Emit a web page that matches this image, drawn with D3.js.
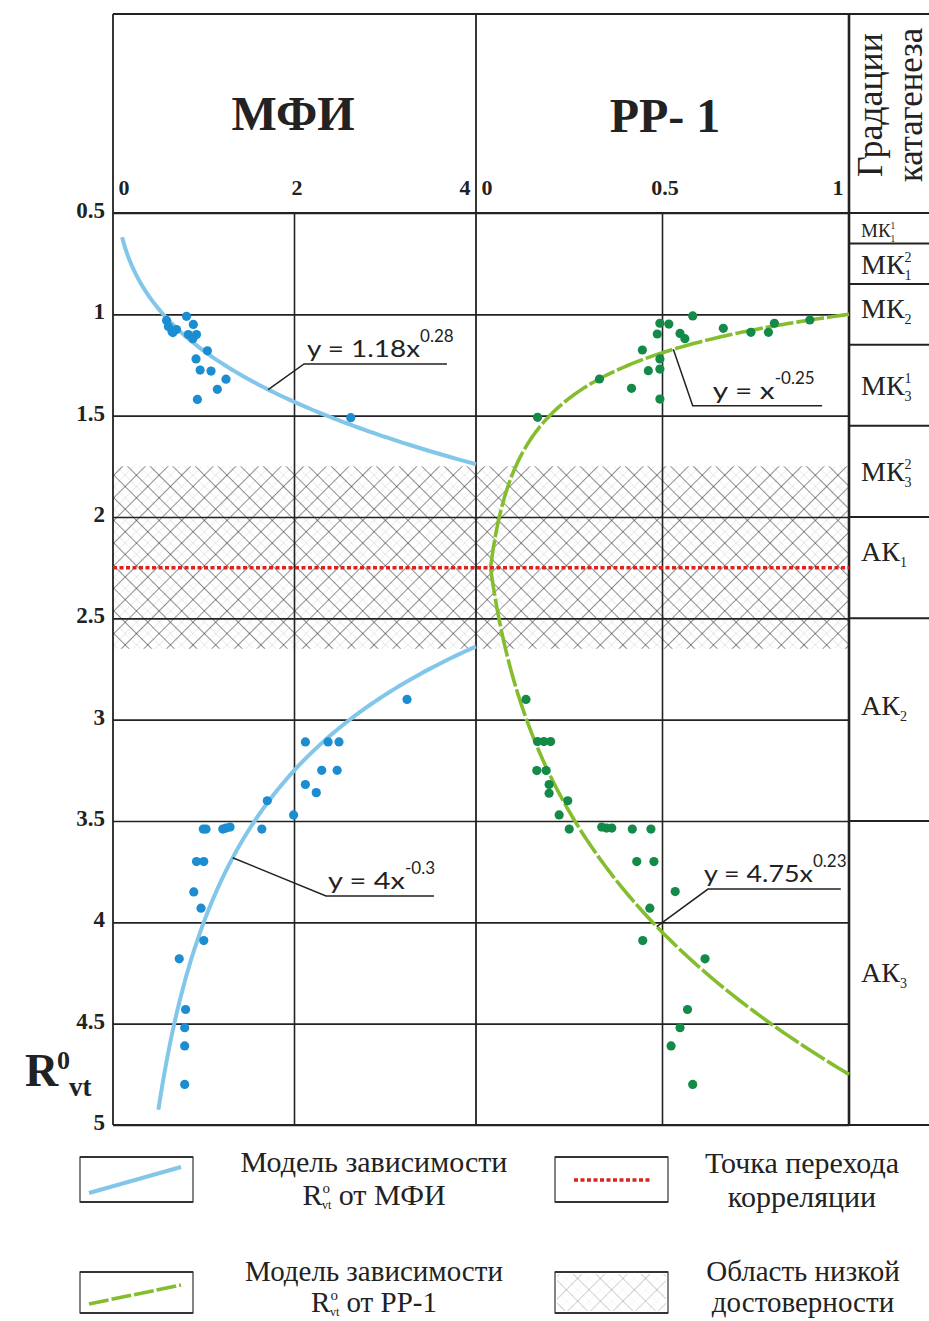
<!DOCTYPE html>
<html>
<head>
<meta charset="utf-8">
<script src="https://cdn.jsdelivr.net/npm/d3@7"></script>
<style>
  body { margin: 0; background: #fff; }
  svg { display: block; }
</style>
</head>
<body>
<svg id="chart" width="929" height="1321"></svg>
<script>
// ── Data ──
const rTicks   = [0.5, 1, 1.5, 2, 2.5, 3, 3.5, 4, 4.5, 5];
const mfiTicks = [0, 2, 4];
const ppTicks  = [0, 0.5, 1];

// МФИ scatter (x = МФИ, R = R0vt)
const mfiX = [0.81, 0.885, 0.59, 0.61, 0.65, 0.70, 0.66, 0.83, 0.92, 0.88, 1.04, 0.915, 0.96, 1.08, 1.245, 1.15, 0.93, 2.62,
              3.24, 2.12, 2.37, 2.49, 2.30, 2.47, 2.12, 2.24, 1.70, 1.99, 0.995, 1.025, 1.21, 1.245, 1.29, 1.64,
              0.92, 1.00, 0.89, 0.97, 1.00, 0.73, 0.80, 0.79, 0.79, 0.79];
const mfiR = [1.01, 1.05, 1.03, 1.06, 1.085, 1.075, 1.09, 1.10, 1.10, 1.12, 1.18, 1.22, 1.275, 1.28, 1.32, 1.37, 1.42, 1.51,
              2.90, 3.11, 3.11, 3.11, 3.25, 3.25, 3.32, 3.36, 3.40, 3.47, 3.54, 3.54, 3.54, 3.535, 3.53, 3.54,
              3.70, 3.70, 3.85, 3.93, 4.09, 4.18, 4.43, 4.52, 4.61, 4.80];

// РР-1 scatter
const ppX = [0.581, 0.493, 0.517, 0.486, 0.547, 0.56, 0.663, 0.737, 0.784, 0.80, 0.895, 0.446, 0.493, 0.462, 0.493, 0.331, 0.417, 0.493, 0.165,
             0.134, 0.165, 0.182, 0.20, 0.163, 0.188, 0.196, 0.196, 0.246, 0.223, 0.25, 0.337, 0.35, 0.364, 0.419, 0.469,
             0.431, 0.477, 0.534, 0.466, 0.447, 0.614, 0.567, 0.547, 0.523, 0.581];
const ppR = [1.008, 1.044, 1.048, 1.097, 1.094, 1.12, 1.069, 1.089, 1.089, 1.044, 1.028, 1.176, 1.22, 1.278, 1.27, 1.319, 1.365, 1.418, 1.508,
             2.90, 3.108, 3.108, 3.108, 3.251, 3.251, 3.32, 3.363, 3.40, 3.47, 3.54, 3.53, 3.535, 3.535, 3.54, 3.54,
             3.70, 3.70, 3.848, 3.93, 4.09, 4.18, 4.43, 4.52, 4.61, 4.80];

// power-law models R = a * x^b, as printed on the chart
const mfiFits = [{ a: 1.18, b: 0.28, from: 0.1, to: 4 }, { a: 4, b: -0.3, from: 0.5, to: 4 }];
const ppFits  = [{ a: 1, b: -0.25, from: 0.039, to: 1 }, { a: 4.75, b: 0.23, from: 0.039, to: 1 }];

const transitionR   = 2.25;
const lowConfidence = [1.75, 2.65];

// catagenesis gradations
const gradNames  = [['МК', '1', '1'], ['МК', '1', '2'], ['МК', '2', ''], ['МК', '3', '1'], ['МК', '3', '2'], ['АК', '1', ''], ['АК', '2', ''], ['АК', '3', '']];
const gradBounds = [0.5, 0.65, 0.85, 1.15, 1.55, 2.0, 2.5, 3.5, 5];

// ── Setup ──
const svg = d3.select('#chart');
const serif = "'Liberation Serif', 'Times New Roman', serif";
const sans  = "Lato, 'Open Sans', sans-serif";
const ink = '#222';

const xMfi = d3.scaleLinear().domain([0, 4]).range([113, 476]);
const xPp  = d3.scaleLinear().domain([0, 1]).range([476, 849]);
const y    = d3.scaleLinear().domain([0.5, 5]).range([213, 1125]);

const defs = svg.append('defs');
function hatch(id, angle, dark) {
  const p = defs.append('pattern')
    .attr('id', id)
    .attr('patternUnits', 'userSpaceOnUse')
    .attr('width', 16).attr('height', 16)
    .attr('patternTransform', `rotate(${angle})`);
  p.append('line').attr('x1', 0.5).attr('x2', 0.5).attr('y1', 0).attr('y2', 16)
    .attr('stroke', '#333').attr('stroke-width', 1).attr('opacity', dark);
  p.append('line').attr('x1', 8.5).attr('x2', 8.5).attr('y1', 0).attr('y2', 16)
    .attr('stroke', '#888').attr('stroke-width', 0.8).attr('opacity', dark * 0.35);
}
hatch('hatchA', 45, 0.55);
hatch('hatchB', -45, 0.55);
hatch('hatchLa', 45, 0.22);
hatch('hatchLb', -45, 0.22);

// ── Low-confidence zone ──
['hatchA', 'hatchB'].forEach(id => {
  svg.append('rect')
    .attr('x', xMfi(0)).attr('width', xPp(1) - xMfi(0))
    .attr('y', y(lowConfidence[0])).attr('height', y(lowConfidence[1]) - y(lowConfidence[0]))
    .attr('fill', `url(#${id})`);
});

// ── Grid + Y axis ──
const yAxis = svg.append('g')
  .attr('transform', `translate(${xMfi(0)},0)`)
  .call(d3.axisLeft(y).tickValues(rTicks).tickSize(-(xPp(1) - xMfi(0))).tickPadding(8).tickFormat(d => d));
yAxis.select('.domain').remove();
yAxis.selectAll('line').attr('stroke', ink).attr('stroke-width', 1.6);
yAxis.selectAll('text')
  .attr('fill', ink).attr('dy', '0.2em')
  .style('font-family', serif).style('font-weight', 'bold').style('font-size', '23px');

svg.selectAll('.vgrid')
  .data([xMfi(2), xPp(0.5)])
  .enter().append('line')
  .attr('x1', d => d).attr('x2', d => d)
  .attr('y1', y(0.5)).attr('y2', y(5))
  .attr('stroke', ink).attr('stroke-width', 1.6);

// frame
const frame = svg.append('g').attr('stroke', ink).attr('fill', 'none');
frame.append('line').attr('x1', 113).attr('x2', 929).attr('y1', 14).attr('y2', 14).attr('stroke-width', 2);
frame.append('line').attr('x1', 113).attr('x2', 929).attr('y1', y(0.5)).attr('y2', y(0.5)).attr('stroke-width', 2);
frame.append('line').attr('x1', 113).attr('x2', 929).attr('y1', y(5)).attr('y2', y(5)).attr('stroke-width', 2);
[xMfi(0), xMfi(4)].forEach(x => {
  frame.append('line').attr('x1', x).attr('x2', x).attr('y1', 14).attr('y2', y(5)).attr('stroke-width', 1.8);
});
frame.append('line').attr('x1', xPp(1)).attr('x2', xPp(1)).attr('y1', 14).attr('y2', y(5)).attr('stroke-width', 2.6);

// ── Top axes ──
function topAxis(scale, ticks) {
  const g = svg.append('g')
    .attr('transform', `translate(0,${y(0.5)})`)
    .call(d3.axisTop(scale).tickValues(ticks).tickSize(0).tickPadding(18).tickFormat(d => d));
  g.select('.domain').remove();
  g.selectAll('text')
    .attr('fill', ink)
    .style('font-family', serif).style('font-weight', 'bold').style('font-size', '22px')
    .attr('text-anchor', (d, i) => i === 0 ? 'start' : i === ticks.length - 1 ? 'end' : 'middle')
    .attr('dx', (d, i) => i === 0 ? 5 : i === ticks.length - 1 ? -6 : 2);
}
topAxis(xMfi, mfiTicks);
topAxis(xPp, ppTicks);

// panel titles
svg.append('text').attr('x', 293).attr('y', 130).attr('text-anchor', 'middle')
  .style('font-family', serif).style('font-weight', 'bold').style('font-size', '48px').attr('fill', ink)
  .text('МФИ');
svg.append('text').attr('x', 665).attr('y', 132).attr('text-anchor', 'middle')
  .style('font-family', serif).style('font-weight', 'bold').style('font-size', '48px').attr('fill', ink)
  .text('РР- 1');

// ── Gradation column ──
svg.append('g').selectAll('text')
  .data(['Градации', 'катагенеза'])
  .enter().append('text')
  .attr('transform', (d, i) => `translate(${i === 0 ? 882 : 922},105) rotate(-90)`)
  .attr('text-anchor', 'middle')
  .attr('textLength', (d, i) => i === 0 ? 144 : 154)
  .attr('lengthAdjust', 'spacingAndGlyphs')
  .style('font-family', serif).style('font-size', '35px').attr('fill', ink)
  .text(d => d);

svg.selectAll('.gradline')
  .data(gradBounds.slice(1, -1))
  .enter().append('line')
  .attr('x1', xPp(1)).attr('x2', 929)
  .attr('y1', d => y(d)).attr('y2', d => y(d))
  .attr('stroke', ink).attr('stroke-width', 2);

const gradShift = [3, 1, -6, 0, 0, -16, -14, 0];
gradNames.forEach((n, i) => {
  const small = i === 0;
  const fs = small ? 19 : 28;
  const base = (y(gradBounds[i]) + y(gradBounds[i + 1])) / 2 + fs * 0.33 + gradShift[i];
  const t = svg.append('text').attr('x', 861).attr('y', base)
    .style('font-family', serif).style('font-size', fs + 'px').attr('fill', ink).text(n[0]);
  const w = t.node().getComputedTextLength();
  svg.append('text').attr('x', 861 + w).attr('y', base + fs * 0.22)
    .style('font-family', serif).style('font-size', (fs * 0.5) + 'px').attr('fill', ink).text(n[1]);
  if (n[2]) {
    svg.append('text').attr('x', 861 + w).attr('y', base - fs * 0.42)
      .style('font-family', serif).style('font-size', (fs * 0.5) + 'px').attr('fill', ink).text(n[2]);
  }
});

// ── Model curves ──
function fitPoints(f) {
  // log-spaced samples so the steep end stays smooth
  return d3.range(0, 201).map(i => {
    const x = f.from * Math.pow(f.to / f.from, i / 200);
    return [x, f.a * Math.pow(x, f.b)];
  });
}
const lineMfi = d3.line().x(d => xMfi(d[0])).y(d => y(d[1]));
const linePp  = d3.line().x(d => xPp(d[0])).y(d => y(d[1]));

mfiFits.forEach(f => {
  svg.append('path').datum(fitPoints(f))
    .attr('d', lineMfi).attr('fill', 'none')
    .attr('stroke', '#82c6ea').attr('stroke-width', 4);
});
ppFits.forEach(f => {
  svg.append('path').datum(fitPoints(f))
    .attr('d', linePp).attr('fill', 'none')
    .attr('stroke', '#84bd2e').attr('stroke-width', 3.6)
    .attr('stroke-dasharray', '28,3');
});

// transition line
svg.append('line')
  .attr('x1', xMfi(0)).attr('x2', xPp(1))
  .attr('y1', y(transitionR)).attr('y2', y(transitionR))
  .attr('stroke', '#d9251d').attr('stroke-width', 3.5)
  .attr('stroke-dasharray', '4,2.5');

// ── Points ──
svg.append('g').selectAll('circle')
  .data(mfiX.map((v, i) => [v, mfiR[i]]))
  .enter().append('circle')
  .attr('cx', d => xMfi(d[0])).attr('cy', d => y(d[1])).attr('r', 4.6)
  .attr('fill', '#1b8dd0');
svg.append('g').selectAll('circle')
  .data(ppX.map((v, i) => [v, ppR[i]]))
  .enter().append('circle')
  .attr('cx', d => xPp(d[0])).attr('cy', d => y(d[1])).attr('r', 4.6)
  .attr('fill', '#138a48');

// ── Equation call-outs ──
const callouts = [
  { sx: xMfi, fit: mfiFits[0], ax: 1.71,   ex: 2.105, eR: 1.245, endX: 3.68,  main: 'y = 1.18x', sup: '0.28',  mw: 113, tdx: 3 },
  { sx: xPp,  fit: ppFits[0],  ax: 0.529,  ex: 0.581, eR: 1.451, endX: 0.928, main: 'y = x',     sup: '-0.25', mw: 62,  tdx: 20 },
  { sx: xMfi, fit: mfiFits[1], ax: 1.319,  ex: 2.347, eR: 3.87,  endX: 3.537, main: 'y = 4x',    sup: '-0.3',  mw: 77,  tdx: 2 },
  { sx: xPp,  fit: ppFits[1],  ax: 0.4845, ex: 0.622, eR: 3.836, endX: 0.978, main: 'y = 4.75x', sup: '0.23',  mw: 109, tdx: -4 }
];
callouts.forEach(c => {
  const ay = c.fit.a * Math.pow(c.ax, c.fit.b);
  svg.append('path')
    .attr('d', d3.line()([[c.sx(c.ax), y(ay)], [c.sx(c.ex), y(c.eR)], [c.sx(c.endX), y(c.eR)]]))
    .attr('fill', 'none').attr('stroke', ink).attr('stroke-width', 1.5);
  const tx = c.sx(c.ex) + c.tdx;
  const ty = y(c.eR) - 7;
  svg.append('text').attr('x', tx).attr('y', ty)
    .attr('textLength', c.mw).attr('lengthAdjust', 'spacingAndGlyphs')
    .style('font-family', sans).style('font-size', '24px').attr('fill', ink)
    .text(c.main);
  svg.append('text').attr('x', tx + c.mw).attr('y', ty - 15)
    .style('font-family', sans).style('font-size', '17px').attr('fill', ink)
    .text(c.sup);
});

// ── R0vt label ──
const rl = svg.append('g').attr('fill', ink).style('font-family', serif).style('font-weight', 'bold');
rl.append('text').attr('x', 25).attr('y', 1086).style('font-size', '46px').text('R');
rl.append('text').attr('x', 57).attr('y', 1069).style('font-size', '26px').text('0');
rl.append('text').attr('x', 69).attr('y', 1096).style('font-size', '27px').text('vt');

// ── Legend ──
const legendBoxes = [[80, 1157, 113, 45], [555, 1157, 113, 45], [80, 1272, 113, 41], [555, 1272, 113, 41]];
const lg = svg.append('g');
legendBoxes.forEach(b => {
  lg.append('rect').attr('x', b[0]).attr('y', b[1]).attr('width', b[2]).attr('height', b[3])
    .attr('fill', 'none').attr('stroke', '#333').attr('stroke-width', 1.2);
  [b[1], b[1] + b[3]].forEach(yy => {
    lg.append('line').attr('x1', b[0]).attr('x2', b[0] + b[2]).attr('y1', yy).attr('y2', yy)
      .attr('stroke', '#333').attr('stroke-width', 2.2);
  });
});
lg.append('line').attr('x1', 89).attr('y1', 1193).attr('x2', 181).attr('y2', 1167)
  .attr('stroke', '#82c6ea').attr('stroke-width', 4);
lg.append('line').attr('x1', 574).attr('y1', 1180).attr('x2', 652).attr('y2', 1180)
  .attr('stroke', '#d9251d').attr('stroke-width', 3.5).attr('stroke-dasharray', '4,2.5');
lg.append('line').attr('x1', 89).attr('y1', 1304).attr('x2', 181).attr('y2', 1285)
  .attr('stroke', '#84bd2e').attr('stroke-width', 3.6).attr('stroke-dasharray', '20,3');
['hatchLa', 'hatchLb'].forEach(id => {
  lg.append('rect').attr('x', 557).attr('y', 1274).attr('width', 109).attr('height', 37)
    .attr('fill', `url(#${id})`);
});

function legendText(x, yy, lines, gap, fs) {
  lines.forEach((ln, i) => {
    const t = lg.append('text').attr('x', x).attr('y', yy + i * gap).attr('text-anchor', 'middle')
      .style('font-family', serif).style('font-size', fs + 'px').attr('fill', ink);
    if (typeof ln === 'string') {
      t.text(ln);
    } else {
      t.append('tspan').text('R');
      t.append('tspan').attr('dy', -12).style('font-size', '15px').text('o');
      t.append('tspan').attr('dx', -8).attr('dy', 16).style('font-size', '12px').text('vt');
      t.append('tspan').attr('dy', -4).text(' ' + ln.rest);
    }
  });
}
legendText(374, 1172, ['Модель зависимости', { rest: 'от МФИ' }], 33, 30);
legendText(802, 1173, ['Точка перехода', 'корреляции'], 34, 30);
legendText(374, 1281, ['Модель зависимости', { rest: 'от РР-1' }], 31, 29);
legendText(803, 1281, ['Область низкой', 'достоверности'], 31, 29);
</script>
</body>
</html>
